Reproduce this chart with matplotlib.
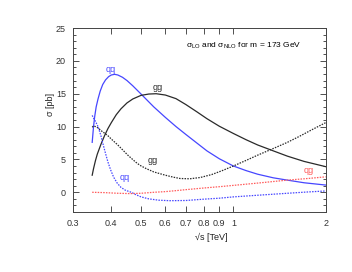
import numpy as np
import matplotlib
matplotlib.use('Agg')
import matplotlib.pyplot as plt
from matplotlib.ticker import MultipleLocator, NullLocator, FixedLocator

plt.rcParams['font.family'] = ['Liberation Sans', 'DejaVu Sans']
plt.rcParams['mathtext.fontset'] = 'custom'
plt.rcParams['mathtext.rm'] = 'Liberation Sans'

# qq LO (blue solid)
qq_lo_x = [0.3465, 0.35, 0.353, 0.357, 0.362, 0.368, 0.375, 0.383, 0.392, 0.40, 0.41, 0.42,
           0.435, 0.45, 0.47, 0.50, 0.55, 0.60, 0.65, 0.70, 0.76, 0.82, 0.9, 1.0, 1.1, 1.2,
           1.35, 1.5, 1.7, 2.0]
qq_lo_y = [7.6, 10.0, 11.5, 13.0, 14.2, 15.4, 16.4, 17.1, 17.6, 17.85, 17.95, 17.85,
           17.5, 17.0, 16.2, 14.95, 13.0, 11.4, 10.0, 8.8, 7.5, 6.3, 5.1, 4.0, 3.3, 2.75,
           2.2, 1.85, 1.45, 1.1]

# gg LO (black solid)
gg_lo_x = [0.3465, 0.35, 0.355, 0.36, 0.37, 0.38, 0.39, 0.40, 0.415, 0.43, 0.45, 0.47,
           0.50, 0.53, 0.56, 0.60, 0.65, 0.70, 0.76, 0.82, 0.9, 1.0, 1.1, 1.2, 1.35, 1.5,
           1.7, 2.0]
gg_lo_y = [2.6, 3.6, 4.8, 5.8, 7.3, 8.6, 9.7, 10.6, 11.8, 12.7, 13.6, 14.2,
           14.75, 14.95, 15.0, 14.8, 14.25, 13.35, 12.25, 11.2, 10.05, 8.95, 8.0, 7.2, 6.3, 5.5,
           4.7, 3.9]

# gg NLO (black dashed)
gg_nlo_x = [0.3465, 0.35, 0.355, 0.362, 0.37, 0.38, 0.39, 0.40, 0.42, 0.454, 0.48, 0.496,
            0.52, 0.55, 0.60, 0.637, 0.67, 0.72, 0.78, 0.85, 0.92, 1.0, 1.1, 1.2, 1.34, 1.5,
            1.64, 1.8, 2.0]
gg_nlo_y = [9.9, 10.1, 10.0, 9.8, 9.4, 9.0, 8.6, 8.1, 7.2, 5.6, 4.6, 4.1,
            3.6, 3.1, 2.6, 2.3, 2.1, 2.05, 2.25, 2.7, 3.3, 4.0, 4.85, 5.65, 6.6, 7.6,
            8.5, 9.5, 10.6]

# qq NLO (blue dashed)
qq_nlo_x = [0.3465, 0.35, 0.355, 0.362, 0.37, 0.376, 0.383, 0.39, 0.398, 0.407, 0.418,
            0.43, 0.445, 0.465, 0.48, 0.50, 0.53, 0.57, 0.62, 0.7, 0.8, 0.9, 1.0, 1.2,
            1.5, 1.75, 2.0]
qq_nlo_y = [11.7, 11.3, 10.8, 10.0, 8.6, 7.3, 5.9, 4.6, 3.4, 2.3, 1.4,
            0.75, 0.3, 0.0, -0.35, -0.7, -1.0, -1.2, -1.28, -1.25, -1.05, -0.9, -0.7, -0.45,
            -0.15, 0.05, 0.2]

# qg NLO (red dashed)
qg_nlo_x = [0.3465, 0.38, 0.42, 0.46, 0.50, 0.55, 0.60, 0.65, 0.70, 0.8, 0.9, 1.0, 1.2,
            1.5, 1.75, 2.0]
qg_nlo_y = [0.0, -0.05, -0.15, -0.2, -0.15, 0.0, 0.1, 0.25, 0.4, 0.65, 0.85, 1.05, 1.4,
            1.85, 2.1, 2.35]

xticks = [0.3, 0.4, 0.5, 0.6, 0.7, 0.8, 0.9, 1, 2]
xticklabels = ['0.3', '0.4', '0.5', '0.6', '0.7', '0.8', '0.9', '1', '2']

blue = '#4646ff'
black = '#2a2a2a'
red = '#ff5a5a'
dash = (0, (1.2, 1.0))

fig = plt.figure(figsize=(3.52, 2.72), dpi=100)
ax = fig.add_axes([73 / 352, 1 - 212 / 272, 252.7 / 352, 184 / 272])

ax.plot(qq_lo_x, qq_lo_y, color=blue, lw=0.9)
ax.plot(gg_lo_x, gg_lo_y, color=black, lw=0.9)
ax.plot(gg_nlo_x, gg_nlo_y, color=black, lw=0.9, ls=dash)
ax.plot(qq_nlo_x, qq_nlo_y, color=blue, lw=0.9, ls=dash)
ax.plot(qg_nlo_x, qg_nlo_y, color=red, lw=0.9, ls=dash)

fs = 6.5
ax.text(0.398, 18.7, 'qq', color=blue, fontsize=fs, ha='center', va='center')
ax.text(0.568, 16.0, 'gg', color=black, fontsize=fs, ha='center', va='center')
ax.text(0.547, 4.85, 'gg', color=black, fontsize=fs, ha='center', va='center')
ax.text(0.442, 2.3, 'qq', color=blue, fontsize=fs, ha='center', va='center')
ax.text(1.758, 3.3, 'qg', color=red, fontsize=fs, ha='center', va='center')
ax.text(0.70, 22.3, 'σ$_{\\mathrm{LO}}$ and σ$_{\\mathrm{NLO}}$ for m = 173 GeV',
        fontsize=6.0, ha='left', va='center')

ax.set_xscale('log')
ax.set_xlim(0.3, 2)
ax.set_ylim(-3, 25)
ax.xaxis.set_major_locator(FixedLocator(xticks))
ax.xaxis.set_minor_locator(NullLocator())
ax.set_xticklabels(xticklabels)
ax.yaxis.set_major_locator(FixedLocator([0, 5, 10, 15, 20, 25]))
ax.yaxis.set_minor_locator(MultipleLocator(1))

ax.tick_params(which='both', direction='in', top=True, right=True, labelsize=fs,
               colors='#333333', width=0.6)
ax.tick_params(which='major', length=4, pad=5)
ax.tick_params(which='minor', length=2)
for s in ax.spines.values():
    s.set_color('#444444')
    s.set_linewidth(0.7)

ax.set_xlabel('√s [TeV]', fontsize=fs, color='#222222')
ax.set_ylabel('σ [pb]', fontsize=fs, color='#222222')
ax.xaxis.set_label_coords(0.546, -0.136)
ax.yaxis.set_label_coords(-0.091, 0.584)
ax.xaxis.label.set_va('center')
ax.yaxis.label.set_va('center')

fig.savefig('out.png', dpi=100)
